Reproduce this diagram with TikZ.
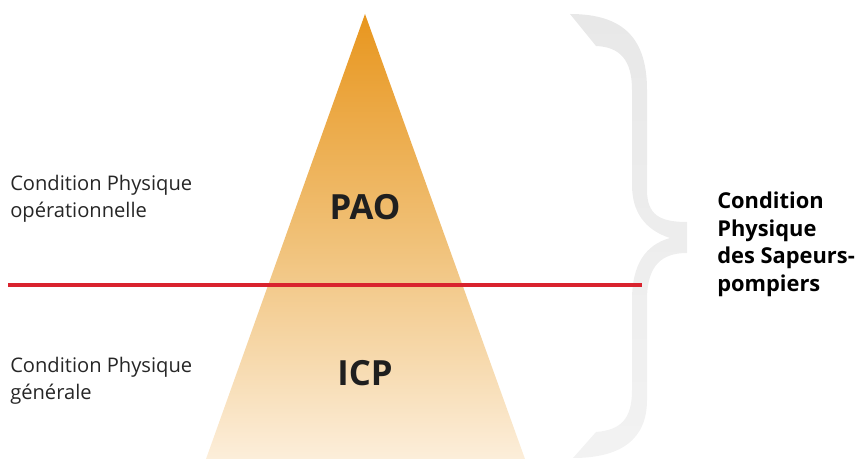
\documentclass[tikz,border=0pt]{standalone}
\usepackage{fontspec}
\setmainfont{Open Sans}
\begin{document}
\begin{tikzpicture}[x=0.75pt,y=-0.75pt,
  side/.style={anchor=north west,align=left,font=\fontsize{15.1}{20.3}\selectfont,text=black!85,inner sep=0pt},
  big/.style={font=\fontsize{26}{30}\selectfont\bfseries,text=black!88},
  righttext/.style={anchor=north west,align=left,font=\fontsize{16.4}{20.6}\selectfont\bfseries,inner sep=0pt}]
\useasboundingbox (0,0) rectangle (856,459);
\definecolor{topor}{RGB}{232,150,30}
\definecolor{midor}{RGB}{240,192,118}
\definecolor{botor}{RGB}{252,238,218}
\definecolor{redline}{RGB}{217,35,46}
% pyramid
\shade[top color=topor,bottom color=botor,middle color=midor,shading angle=0]
  (365,14) coordinate (apex) -- (525,459) coordinate (br) -- (206,459) coordinate (bl) -- cycle;
% brace
\shade[top color=black!9,bottom color=black!5]
  (570,14) .. controls (625,14) and (647,40) .. (647,90)
  -- (647,190) .. controls (647,215) and (660,222) .. (687,222)
  -- (687,253) .. controls (662,253) and (647,265) .. (647,300)
  -- (647,400) .. controls (647,440) and (620,458) .. (573,458)
  -- (596,432) .. controls (620,430) and (632,420) .. (632,390)
  -- (632,300) .. controls (632,265) and (645,245) .. (670,238)
  .. controls (645,230) and (632,212) .. (632,185)
  -- (632,90) .. controls (632,60) and (620,47) .. (596,46) -- cycle;
% red line
\coordinate (l0) at (8,285);
\coordinate (l1) at (642,285);
\draw[redline,line width=2.4pt] (l0) -- (l1);
% labels
\node[big] (pao) at (365,207) {PAO};
\node[big] (icp) at (365,373) {ICP};
\node[side] (op) at (10,175) {Condition Physique\\opérationnelle};
\node[side] (gen) at (10,357) {Condition Physique\\générale};
\node[righttext] (csp) at (717,192) {Condition\\Physique\\des Sapeurs-\\pompiers};
\end{tikzpicture}
\end{document}
